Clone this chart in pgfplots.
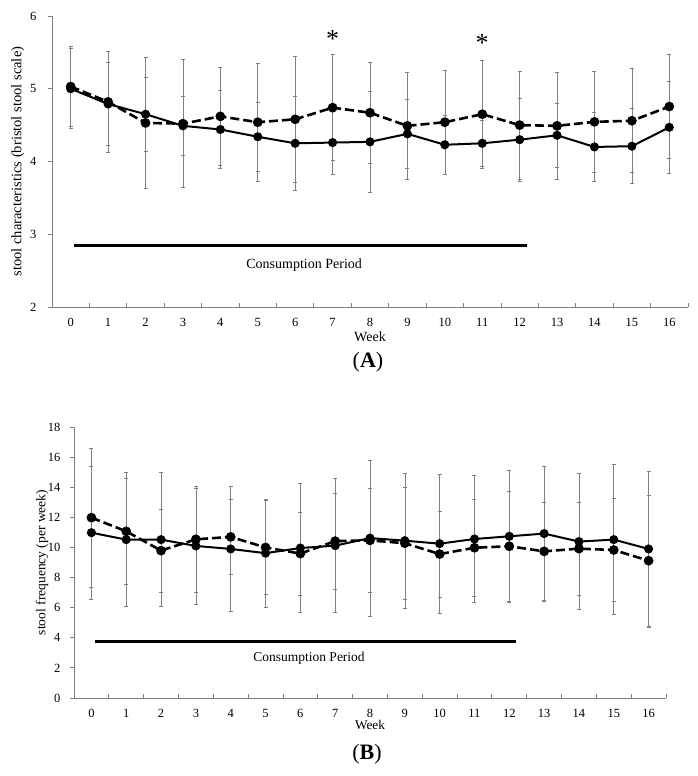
\documentclass[border=0pt]{standalone}
\usepackage{fontspec}
\setmainfont{Liberation Serif}
\usepackage{pgfplots}
\pgfplotsset{compat=1.18}
\usepackage{pgfplotstable}

% week, solid mean, solid sd, dashed mean, dashed sd
\pgfplotstableread{
week as ase ad ade
0 5.00 0.55 5.03 0.55
1 4.79 0.57 4.82 0.69
2 4.65 0.51 4.53 0.90
3 4.49 0.40 4.52 0.88
4 4.44 0.54 4.62 0.67
5 4.34 0.47 4.54 0.81
6 4.25 0.64 4.58 0.87
7 4.26 0.43 4.74 0.73
8 4.27 0.69 4.67 0.70
9 4.38 0.48 4.49 0.74
10 4.23 0.41 4.54 0.72
11 4.25 0.32 4.65 0.74
12 4.30 0.57 4.50 0.745
13 4.36 0.445 4.49 0.74
14 4.20 0.475 4.545 0.695
15 4.21 0.515 4.56 0.715
16 4.47 0.63 4.755 0.715
}\dataA

\pgfplotstableread{
week bs bse bd bde
0 10.98 4.43 11.98 4.63
1 10.52 4.44 11.07 3.55
2 10.52 4.45 9.79 2.74
3 10.10 3.86 10.54 3.52
4 9.90 4.14 10.70 2.49
5 9.62 3.57 10.00 3.11
6 9.96 4.27 9.59 2.75
7 10.12 4.46 10.42 3.19
8 10.62 5.20 10.47 3.45
9 10.45 4.50 10.28 3.70
10 10.25 4.63 9.56 2.85
11 10.56 4.20 9.98 3.23
12 10.74 4.36 10.08 3.65
13 10.92 4.45 9.74 3.29
14 10.39 4.53 9.92 3.08
15 10.52 4.99 9.83 3.42
16 9.90 5.19 9.12 4.33
}\dataB

\pgfplotsset{
  panel/.style={
    scale only axis,
    axis x line*=bottom, axis y line*=left,
    axis line style={draw=gray, line width=0.8pt, -},
    xmin=-0.5, xmax=16.5,
    xtick={0,...,16},
    minor xtick={-0.5,0.5,...,16.5},
    every major x tick/.append style={draw=none},
    tick align=inside,
    major tick length=4pt, minor tick length=4pt,
    every tick/.append style={draw=gray, line width=0.8pt},
    every major y tick/.append style={xshift=-4pt},
    /pgf/number format/assume math mode=true,
    tick label style={font=\fontsize{12.5}{14}\selectfont, black},
    xticklabel style={yshift=-8pt},
    xlabel={Week},
    clip=false,
  },
  ebar/.style={draw=none, mark=none, forget plot,
    error bars/.cd, y dir=both, y explicit,
    error bar style={draw=gray, line width=0.6pt},
    error mark options={rotate=90, draw=gray, mark size=2pt, line width=0.6pt}},
  solidline/.style={black, line width=2pt, mark=*, mark size=3.5pt,
    mark options={solid, fill=black}},
  dashline/.style={black, line width=2.6pt, dash pattern=on 9pt off 4pt,
    mark=*, mark size=3.5pt, mark options={solid, fill=black}},
}

\begin{document}
\begin{tikzpicture}
\useasboundingbox (0,0) rectangle (698pt,776pt);

% ---- panel A ----
\begin{axis}[panel,
  at={(52pt,469pt)}, width=636pt, height=291pt,
  ymin=2, ymax=6, ytick={2,...,6},
  yticklabel style={xshift=-12pt},
  xlabel style={at={(axis description cs:0.5,-0.103)}, anchor=center,
    font=\fontsize{14}{16}\selectfont},
  ylabel={stool characteristics (bristol stool scale)},
  ylabel style={at={(axis description cs:-0.0535,0.5)}, anchor=center,
    font=\fontsize{14.5}{16}\selectfont},
]
\addplot[ebar] table[x=week, y=as, y error=ase] {\dataA};
\addplot[ebar] table[x=week, y=ad, y error=ade] {\dataA};
\addplot[dashline] table[x=week, y=ad] {\dataA};
\addplot[solidline] table[x=week, y=as] {\dataA};
\addplot[black, line width=3pt] coordinates {(0.1,2.84) (12.19,2.84)};
\addplot[only marks, mark=none,
  nodes near coords={\fontsize{26}{26}\selectfont *},
  every node near coord/.append style={anchor=center, inner sep=0pt}]
  coordinates {(7,5.69) (11,5.63)};
\node[font=\fontsize{14}{16}\selectfont] at (axis cs:6.24,2.58) {Consumption Period};
\end{axis}

% ---- panel B ----
\begin{axis}[panel,
  at={(74pt,78pt)}, width=592pt, height=271pt,
  ymin=0, ymax=18, ytick={0,2,...,18},
  yticklabel style={xshift=-10pt},
  xlabel style={at={(axis description cs:0.5,-0.0996)}, anchor=center,
    font=\fontsize{13.3}{15}\selectfont},
  ylabel={stool frequency (per week)},
  ylabel style={at={(axis description cs:-0.054,0.5)}, anchor=center,
    font=\fontsize{13.5}{15}\selectfont},
]
\addplot[ebar] table[x=week, y=bs, y error=bse] {\dataB};
\addplot[ebar] table[x=week, y=bd, y error=bde] {\dataB};
\addplot[dashline] table[x=week, y=bd] {\dataB};
\addplot[solidline] table[x=week, y=bs] {\dataB};
\addplot[black, line width=3pt] coordinates {(0.09,3.77) (12.18,3.77)};
\node[font=\fontsize{13.5}{15}\selectfont] at (axis cs:6.25,2.62) {Consumption Period};
\end{axis}

\node[font=\fontsize{22}{24}\selectfont] at (368pt,414pt) {(\textbf{A})};
\node[font=\fontsize{22}{24}\selectfont] at (367pt,22pt) {(\textbf{B})};
\end{tikzpicture}
\end{document}
